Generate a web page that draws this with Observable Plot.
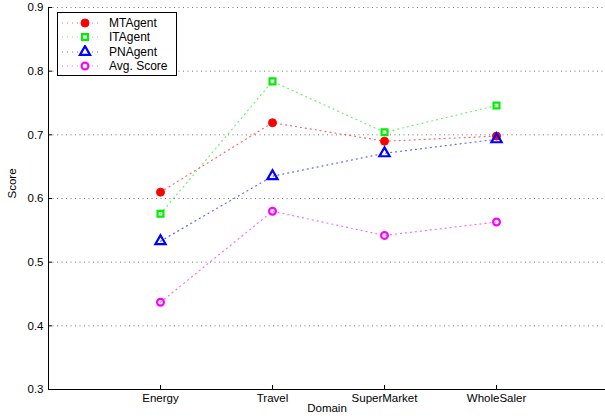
<!DOCTYPE html>
<html>
<head>
<meta charset="utf-8">
<script src="https://cdn.jsdelivr.net/npm/d3@7"></script>
<script src="https://cdn.jsdelivr.net/npm/@observablehq/plot@0.6"></script>
<style>
  body { margin: 0; background: #fff; }
  #wrap { position: relative; width: 605px; height: 419px; font-family: "Liberation Sans", Arial, sans-serif; }
  #legend { position: absolute; left: 57px; top: 12px; width: 118px; height: 62px; border: 1.5px solid #000; background: #fff; font-size: 12px; }
  #legend .row { position: absolute; left: 0; height: 14px; display: flex; align-items: center; }
  #legend svg { display: block; }
  #legend span { margin-left: 5px; color: #000; }
</style>
</head>
<body>
<div id="wrap"><div id="chart"></div><div id="legend"></div></div>
<script>
const domains = ["Energy", "Travel", "SuperMarket", "WholeSaler"];
const mtAgent = [0.610, 0.719, 0.690, 0.698];
const itAgent = [0.576, 0.784, 0.704, 0.746];
const pnAgent = [0.533, 0.635, 0.671, 0.693];
const avgScore = [0.437, 0.580, 0.542, 0.563];
const yTicks = [0.3, 0.4, 0.5, 0.6, 0.7, 0.8, 0.9];

const seriesDefs = [
  {name: "MTAgent", values: mtAgent, color: "#ff0000", symbol: "circle", fill: "#ff0000", r: 4},
  {name: "ITAgent", values: itAgent, color: "#00ee00", symbol: "square", fill: "none", r: 3.3},
  {name: "PNAgent", values: pnAgent, color: "#0000ff", symbol: "triangle", fill: "none", r: 3.8},
  {name: "Avg. Score", values: avgScore, color: "#ff00ff", symbol: "circle", fill: "none", r: 3.4}
];

const marks = [
  Plot.ruleY(yTicks.filter(d => d > 0.3), {stroke: "#777", strokeDasharray: "1,3.5", strokeWidth: 1}),
  Plot.ruleX([0], {stroke: "#000"}),
  Plot.ruleY([0.3], {stroke: "#000"}),
  Plot.axisY({ticks: yTicks, tickSize: -4, tickPadding: 9, tickFormat: d3.format(".1f"), label: null, fontSize: 11.5}),
  Plot.axisX({ticks: [1, 2, 3, 4], tickSize: -4, tickPadding: 8, tickFormat: i => domains[i - 1], label: null, fontSize: 11.5}),
  Plot.text(["Score"], {frameAnchor: "left", dx: -36, rotate: -90, fontSize: 11.5}),
  Plot.text(["Domain"], {frameAnchor: "bottom", dy: 22, fontSize: 11.5})
];

for (const s of seriesDefs) {
  const data = s.values.map((v, i) => ({x: i + 1, y: v}));
  marks.push(Plot.line(data, {x: "x", y: "y", stroke: s.color, strokeWidth: 1.2, strokeDasharray: "1,4", strokeOpacity: 0.6}));
}
for (const s of seriesDefs) {
  const data = s.values.map((v, i) => ({x: i + 1, y: v}));
  marks.push(Plot.dot(data, {x: "x", y: "y", symbol: s.symbol, r: s.r, stroke: s.color, fill: s.fill, strokeWidth: s.fill === "none" ? 2.2 : 1}));
}

const chart = Plot.plot({
  width: 605,
  height: 419,
  marginLeft: 48,
  marginRight: 0,
  marginTop: 7,
  marginBottom: 30,
  x: {domain: [0, 5], range: [48, 608]},
  y: {domain: [0.3, 0.9]},
  style: {fontFamily: "'Liberation Sans', Arial, sans-serif", fontSize: "11.5px", color: "#000", background: "#fff", overflow: "visible"},
  marks
});
document.getElementById("chart").appendChild(chart);

// legend
const legend = d3.select("#legend");
const rowTops = [3, 17, 32, 46];
seriesDefs.forEach((s, i) => {
  const row = legend.append("div").attr("class", "row").style("top", rowTops[i] + "px");
  const svg = row.append("svg").attr("width", 46).attr("height", 14);
  svg.append("line").attr("x1", 4).attr("x2", 44).attr("y1", 7).attr("y2", 7)
    .attr("stroke", s.color).attr("stroke-width", 1.2).attr("stroke-dasharray", "1,4").attr("stroke-opacity", 0.6);
  const sym = {circle: d3.symbolCircle, square: d3.symbolSquare, triangle: d3.symbolTriangle}[s.symbol];
  svg.append("path").attr("transform", "translate(27,7)")
    .attr("d", d3.symbol(sym, Math.PI * s.r * s.r)())
    .attr("fill", s.fill).attr("stroke", s.color).attr("stroke-width", s.fill === "none" ? 2.2 : 1);
  row.append("span").text(s.name);
});
</script>
</body>
</html>
